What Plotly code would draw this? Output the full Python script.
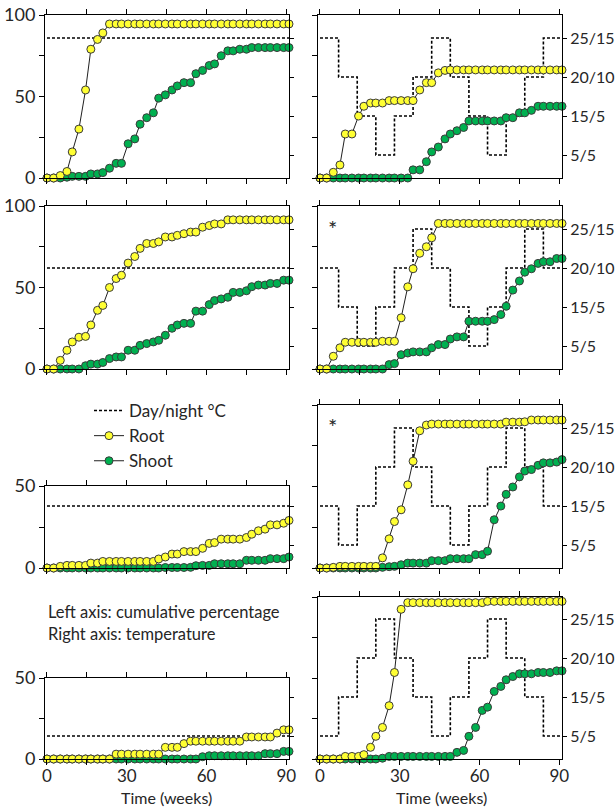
import plotly.graph_objects as go

# ---------------- data ----------------
weeks = [0, 2.5, 5, 7.5, 9.5, 12, 14.5, 16.5, 19, 21, 23.5, 26, 28, 30.5, 33, 35, 37.5, 40, 42, 44.5,
         47, 49, 51.5, 54, 56, 58.5, 61, 63, 65.5, 68, 70, 72.5, 75, 77, 79.5, 82, 84, 86.5, 89, 91]

temp_weeks = [0, 7, 14, 21, 28, 35, 42, 49, 56, 63, 70, 77, 84, 91]
temp_levels = ["5/5", "15/5", "20/10", "25/15"]

const_temp = ["25/15", "20/10", "15/5", "5/5"]  # left column, rows 1-4

step_temp_R1 = ["25/15", "20/10", "15/5", "5/5", "15/5", "20/10", "25/15", "20/10", "15/5", "5/5", "15/5", "20/10", "25/15"]
step_temp_R2 = ["20/10", "15/5", "5/5", "15/5", "20/10", "25/15", "20/10", "15/5", "5/5", "15/5", "20/10", "25/15", "20/10"]
step_temp_R3 = ["15/5", "5/5", "15/5", "20/10", "25/15", "20/10", "15/5", "5/5", "15/5", "20/10", "25/15", "20/10", "15/5"]
step_temp_R4 = ["5/5", "15/5", "20/10", "25/15", "20/10", "15/5", "5/5", "15/5", "20/10", "25/15", "20/10", "15/5", "5/5"]

root_L1 = [0, 0, 1.5, 4, 16, 30, 54, 79, 85, 89, 94.5, 94.5, 94.5, 94.5, 94.5, 94.5, 94.5, 94.5, 94.5, 94.5,
           94.5, 94.5, 94.5, 94.5, 94.5, 94.5, 94.5, 94.5, 94.5, 94.5, 94.5, 94.5, 94.5, 94.5, 94.5, 94.5, 94.5, 94.5, 94.5, 94.5]
shoot_L1 = [0, 0, 0, 0.5, 1, 1, 1, 2.5, 2.5, 3.3, 6, 9, 9, 21, 24, 33, 37, 40, 49, 51,
            54, 56.5, 58.5, 58.5, 64, 66, 69, 70, 75, 78, 78, 79, 79, 80, 80, 80, 80, 80, 80, 80]

root_R1 = [0, 0, 3.5, 8, 27, 27, 38, 44, 46, 46, 46, 47.5, 47.5, 47.5, 47.5, 47.5, 54, 58.5, 58.5, 64.5,
           66, 66.3, 66.3, 66.3, 66.3, 66.3, 66.3, 66.3, 66.3, 66.3, 66.3, 66.3, 66.3, 66.3, 66.3, 66.3, 66.3, 66.3, 66.3, 66.3]
shoot_R1 = [0, 0, 0, 0, 0, 0, 0, 0, 0, 0, 0, 0, 0, 0, 0, 5, 5, 10, 16, 19,
            24, 27, 29, 31, 35, 35, 35, 35, 35, 35, 37, 37, 40, 40, 41.5, 44, 44, 44, 44, 44]

root_L2 = [0, 0, 5.3, 11.5, 16.6, 19.5, 20, 27, 36, 39, 50, 55.5, 57.5, 65, 69, 74, 77, 77, 78, 81,
           81, 82, 83, 84, 84, 87, 88, 89, 89, 91.5, 91.5, 91.5, 91.5, 91.5, 91.5, 91.5, 91.5, 91.5, 91.5, 91.5]
shoot_L2 = [0, 0, 0, 0, 0, 0, 2, 3, 3, 4, 6.4, 7.4, 7.4, 11.5, 11.5, 14.5, 15.6, 16.6, 17.6, 20.7,
            25, 27, 28, 28, 35.5, 35.5, 39.5, 42, 43, 44, 47, 47, 48, 50.5, 51.5, 51.5, 52.5, 52.5, 54.5, 54.5]

root_R2 = [0, 0, 7.8, 13, 16.4, 16.4, 16.4, 16.4, 16.4, 16.4, 17, 17, 17, 31.4, 50.4, 61.5, 71, 75, 80.5, 89.3,
           89.3, 89.3, 89.3, 89.3, 89.3, 89.3, 89.3, 89.3, 89.3, 89.3, 89.3, 89.3, 89.3, 89.3, 89.3, 89.3, 89.3, 89.3, 89.3, 89.3]
shoot_R2 = [0, 0, 0, 0, 0, 0, 0, 0, 0, 0, 0, 2.7, 3.3, 8.8, 9.8, 10.5, 10.5, 10.5, 13, 15,
            15, 18.4, 19.7, 19.7, 29.3, 29.3, 29.3, 29.3, 30.3, 33.4, 38.5, 48.4, 54, 59.4, 61.5, 64.8, 65.8, 65.8, 67.8, 67.8]

root_L3 = [0, 0, 1, 1.6, 1.6, 1.6, 1.6, 3, 3, 4, 4, 4, 4, 4, 4, 4, 4, 4, 5.5, 6.7,
           8.5, 8.5, 10, 10, 10, 12, 15, 15.5, 17.6, 17.6, 17.6, 17.6, 18.6, 20.6, 22.7, 23.7, 26.3, 26.3, 27.3, 29]
shoot_L3 = [0, 0, 0, 0, 0, 0, 0, 0, 0, 0, 0, 0, 0, 0, 0, 0, 0, 0, 0, 0.3,
            0.3, 0.3, 0.3, 0.4, 1.4, 1.6, 1.6, 2.6, 2.6, 2.6, 2.6, 2.6, 4.7, 4.7, 4.7, 4.7, 5.7, 5.7, 5.7, 6.7]

root_R3 = [0, 0, 0.4, 1, 1, 1, 1, 1, 1, 1, 6.2, 17.9, 28.5, 35.7, 51, 65.5, 84.2, 87.7, 88.3, 88.3,
           88.3, 88.3, 88.3, 88.3, 88.3, 88.3, 88.3, 88.3, 88.3, 88.3, 89.5, 89.5, 89.5, 89.7, 90.8, 90.8, 90.8, 90.8, 90.8, 90.8]
shoot_R3 = [0, 0, 0, 0, 0, 0, 0, 0, 0, 0, 0.4, 0.8, 1, 2, 3, 3, 3, 3, 4.5, 4.5,
            4.5, 5.7, 5.7, 5.7, 5.7, 8.2, 8.2, 10.3, 29.6, 38, 45.2, 49.7, 55.9, 59.5, 60.4, 63, 64.5, 64.5, 65, 66.5]

root_L4 = [0, 0, 0, 0, 0, 0, 0, 0, 0, 0, 0, 3, 3, 3, 3, 3, 3, 3, 3, 7.2,
           7.2, 7.2, 9.5, 11, 11, 11, 11, 11, 11, 11, 11, 11, 13.6, 13.6, 13.6, 13.6, 13.6, 16, 18, 18]
shoot_L4 = [0, 0, 0, 0, 0, 0, 0, 0, 0, 0, 0, 0, 0, 0, 0, 0, 0, 0, 0, 0,
            0, 0, 0, 0, 0, 1.4, 2, 2, 2, 2, 2, 2, 2, 2, 2, 3.3, 3.3, 3.3, 4.7, 4.7]

root_R4 = [0, 0, 0, 0, 1.6, 1.6, 1.6, 2.7, 7.2, 14, 19.5, 32.9, 53.4, 92.4, 96.5, 96.5, 96.5, 96.5, 96.5, 96.5,
           96.5, 96.5, 96.5, 96.5, 96.5, 96.5, 96.5, 97.3, 97.3, 97.3, 97.3, 97.3, 97.3, 97.3, 97.3, 97.3, 97.3, 97.3, 97.3, 97.3]
shoot_R4 = [0, 0, 0, 0, 0, 0, 0, 0, 0, 0, 0.5, 1.6, 1.6, 1.6, 1.6, 1.6, 1.6, 1.6, 1.6, 1.6,
            1.6, 1.6, 4.1, 5.3, 14, 19.5, 30, 32, 41.7, 44.8, 48.9, 50.9, 52.6, 52.6, 52.6, 53.4, 53.4, 53.4, 54.4, 54.4]

x_ticks = [0, 15, 30, 45, 60, 75, 90]
x_ticktext = ["0", "", "30", "", "60", "", "90"]
pct_ticks = [0, 25, 50, 75, 100]
pct_ticktext = ["0", "", "50", "", "100"]

# ---------------- layout helpers ----------------
W, H = 615, 808
ML, MR, MT, MB = 45, 53, 15, 49
PW, PH = W - ML - MR, H - MT - MB


def px_x(p):
    return (p - ML) / PW


def px_y(p):
    return (H - MB - p) / PH


FONT = "Lato"
TXT = "#262626"
YELLOW = "#FFFF33"
GREEN = "#00B050"
EDGE = "#3a3a3a"

panels = [
    # (column, row, root, shoot, temp(kind, data), px_top, px_bottom, pct_max)
    ("L", 0, root_L1, shoot_L1, ("c", const_temp[0]), 15, 178, 100),
    ("R", 0, root_R1, shoot_R1, ("s", step_temp_R1), 15, 178, 100),
    ("L", 1, root_L2, shoot_L2, ("c", const_temp[1]), 206, 369, 100),
    ("R", 1, root_R2, shoot_R2, ("s", step_temp_R2), 206, 369, 100),
    ("L", 2, root_L3, shoot_L3, ("c", const_temp[2]), 486, 568, 50),
    ("R", 2, root_R3, shoot_R3, ("s", step_temp_R3), 405, 568, 100),
    ("L", 3, root_L4, shoot_L4, ("c", const_temp[3]), 678, 759, 50),
    ("R", 3, root_R4, shoot_R4, ("s", step_temp_R4), 597, 759, 100),
]

col_px = {"L": (45, 289), "R": (318, 562)}

fig = go.Figure()
layout = dict(
    template="none",
    width=W, height=H, autosize=False,
    margin=dict(l=ML, r=MR, t=MT, b=MB, pad=0),
    paper_bgcolor="white", plot_bgcolor="white",
    font=dict(family=FONT, size=18, color=TXT),
    showlegend=True,
)

axis_common = dict(showline=True, linecolor="black", linewidth=1, ticks="outside",
                   ticklen=5, tickcolor="black", tickwidth=1, showgrid=False, zeroline=False,
                   automargin=False,
                   tickfont=dict(family=FONT, size=18, color=TXT))

for p, (col, row, root, shoot, temp, top, bot, pmax) in enumerate(panels):
    xi = p + 1
    yb = 2 * p + 1  # temperature (base, right side)
    yo = 2 * p + 2  # percentage (overlay, left side)
    xname = "xaxis" if xi == 1 else f"xaxis{xi}"
    ybname = "yaxis" if yb == 1 else f"yaxis{yb}"
    yoname = f"yaxis{yo}"
    xref = "x" if xi == 1 else f"x{xi}"
    ybref = "y" if yb == 1 else f"y{yb}"
    yoref = f"y{yo}"

    x0, x1 = col_px[col]
    xdom = [px_x(x0), px_x(x1)]
    ydom = [max(0, px_y(bot)), min(1, px_y(top))]

    layout[xname] = dict(axis_common, domain=xdom, anchor=ybref, range=[-0.75, 91],
                         tickmode="array", tickvals=x_ticks, ticktext=x_ticktext,
                         showticklabels=(row == 3), mirror="ticks",
                         ticklabelstandoff=-3, tickfont=dict(family=FONT, size=17, color=TXT))
    # category positions: 0..3 ; 39 px per level, 23 px below level 0
    span = (bot - top) / 39.0
    lo = -23.0 / 39.0
    layout[ybname] = dict(axis_common, domain=ydom, anchor=xref, side="right",
                          type="category", categoryorder="array", categoryarray=temp_levels,
                          range=[lo, lo + span], showticklabels=(col == "R"),
                          tickmode="array", tickvals=temp_levels, ticktext=temp_levels,
                          ticklen=4, tickfont=dict(family=FONT, size=16, color=TXT))
    layout[yoname] = dict(axis_common, overlaying=ybref, anchor=xref, side="left",
                          range=[0, pmax], tickmode="array",
                          tickvals=[v for v in pct_ticks if v <= pmax],
                          ticktext=[t for v, t in zip(pct_ticks, pct_ticktext) if v <= pmax],
                          showticklabels=(col == "L"))

    # temperature trace
    if temp[0] == "c":
        fig.add_trace(go.Scatter(x=[weeks[0], weeks[-1]], y=[temp[1], temp[1]], mode="lines",
                                 line=dict(color="black", width=1.6, dash="3px,2px"),
                                 xaxis=xref, yaxis=ybref, showlegend=False, hoverinfo="skip"))
    else:
        seq = temp[1]
        fig.add_trace(go.Scatter(x=temp_weeks, y=seq + [seq[-1]], mode="lines",
                                 line=dict(color="black", width=1.6, dash="3px,2px", shape="hv"),
                                 xaxis=xref, yaxis=ybref, name="Day/night °C",
                                 showlegend=(p == 1), legendrank=1, hoverinfo="skip"))
    fig.add_trace(go.Scatter(x=weeks, y=shoot, mode="lines+markers", name="Shoot",
                             line=dict(color="#202020", width=1),
                             marker=dict(size=8, color=GREEN, line=dict(color=EDGE, width=1)),
                             xaxis=xref, yaxis=yoref, cliponaxis=False,
                             showlegend=(p == 0), legendrank=3))
    fig.add_trace(go.Scatter(x=weeks, y=root, mode="lines+markers", name="Root",
                             line=dict(color="#202020", width=1),
                             marker=dict(size=8, color=YELLOW, line=dict(color=EDGE, width=1)),
                             xaxis=xref, yaxis=yoref, cliponaxis=False,
                             showlegend=(p == 0), legendrank=2))

layout["legend"] = dict(x=px_x(89), y=px_y(393), xanchor="left", yanchor="top",
                        bgcolor="rgba(0,0,0,0)", borderwidth=0, tracegroupgap=0,
                        itemwidth=30, font=dict(family=FONT, size=17, color=TXT))

ann = []
ann.append(dict(x=px_x(46), y=px_y(612), xref="paper", yref="paper", xanchor="left", yanchor="middle",
                text="Left axis: cumulative percentage", showarrow=False,
                font=dict(family=FONT, size=16.5, color=TXT)))
ann.append(dict(x=px_x(46), y=px_y(634), xref="paper", yref="paper", xanchor="left", yanchor="middle",
                text="Right axis: temperature", showarrow=False,
                font=dict(family=FONT, size=16.5, color=TXT)))
ann.append(dict(x=px_x(166), y=px_y(797), xref="paper", yref="paper", xanchor="center", yanchor="middle",
                text="Time (weeks)", showarrow=False, borderpad=0,
                font=dict(family=FONT, size=16, color=TXT)))
ann.append(dict(x=px_x(441), y=px_y(797), xref="paper", yref="paper", xanchor="center", yanchor="middle",
                text="Time (weeks)", showarrow=False, borderpad=0,
                font=dict(family=FONT, size=16, color=TXT)))
for ystar in (229, 427):
    ann.append(dict(x=px_x(332), y=px_y(ystar), xref="paper", yref="paper", xanchor="center",
                    yanchor="middle", text="*", showarrow=False,
                    font=dict(family=FONT, size=22, color=TXT)))
layout["annotations"] = ann

fig.update_layout(**layout)

fig.write_html("out.html", config={"displayModeBar": False},
               post_script="document.body.style.margin='0';document.body.style.padding='0';")
